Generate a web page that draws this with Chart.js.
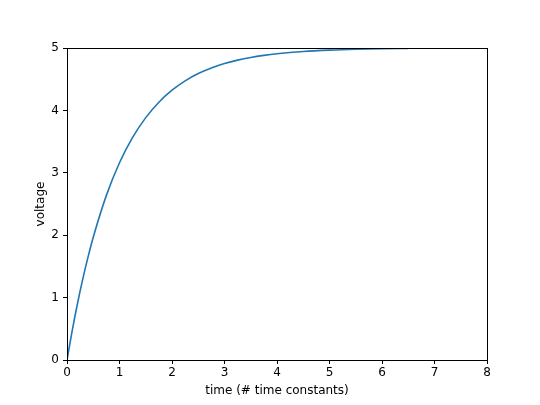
<!DOCTYPE html>
<html>
<head>
<meta charset="utf-8">
<script src="https://cdn.jsdelivr.net/npm/chart.js@4"></script>
<style>
  html, body { margin: 0; padding: 0; background: #fff; }
  #wrap { width: 540px; height: 405px; }
</style>
</head>
<body>
<div id="wrap"><canvas id="c" width="540" height="405"></canvas></div>
<script>
// time (# time constants) and voltage
const times = [0, 0.1, 0.2, 0.3, 0.4, 0.5, 0.75, 1, 1.25, 1.5, 1.75, 2, 2.25, 2.5, 2.75, 3, 3.25, 3.5, 3.75, 4, 4.5, 5, 5.5, 6, 6.5];
const voltage = [0, 0.476, 0.906, 1.296, 1.648, 1.967, 2.638, 3.161, 3.567, 3.884, 4.131, 4.323, 4.473, 4.590, 4.680, 4.751, 4.806, 4.849, 4.882, 4.908, 4.944, 4.966, 4.980, 4.988, 4.992];
const xTicks = [0, 1, 2, 3, 4, 5, 6, 7, 8];
const yTicks = [0, 1, 2, 3, 4, 5];

const font = { family: "'DejaVu Sans'", size: 12 };

// matplotlib-style frame round the plot area
const frame = {
  id: "frame",
  afterDraw(chart) {
    const { ctx, chartArea: a } = chart;
    ctx.save();
    ctx.strokeStyle = "#000";
    ctx.lineWidth = 1;
    ctx.strokeRect(a.left + 0.5, a.top + 0.5, a.right - a.left, a.bottom - a.top);
    ctx.restore();
  },
};

new Chart(document.getElementById("c"), {
  type: "line",
  data: {
    datasets: [
      {
        data: times.map((t, i) => ({ x: t, y: voltage[i] })),
        borderColor: "#1f77b4",
        borderWidth: 1.6,
        pointRadius: 0,
        cubicInterpolationMode: "monotone",
        fill: false,
      },
    ],
  },
  options: {
    responsive: false,
    animation: false,
    layout: { padding: { left: 0, top: 48, right: 53, bottom: 0 } },
    plugins: { legend: { display: false }, tooltip: { enabled: false } },
    scales: {
      x: {
        type: "linear",
        min: 0,
        max: 8,
        afterBuildTicks: (s) => { s.ticks = xTicks.map((v) => ({ value: v })); },
        afterFit: (s) => { s.height = 45; },
        grid: { drawOnChartArea: false, drawTicks: true, tickLength: 4, color: "#000" },
        border: { color: "#000" },
        ticks: { color: "#000", font, padding: 2, maxRotation: 0 },
        title: { display: true, text: "time (# time constants)", color: "#000", font, padding: { top: 0, bottom: 7 } },
      },
      y: {
        type: "linear",
        min: 0,
        max: 5,
        afterBuildTicks: (s) => { s.ticks = yTicks.map((v) => ({ value: v })); },
        afterFit: (s) => { s.width = 67; },
        grid: { drawOnChartArea: false, drawTicks: true, tickLength: 4, color: "#000" },
        border: { color: "#000" },
        ticks: { color: "#000", font, padding: 4 },
        title: { display: true, text: "voltage", color: "#000", font, padding: { top: 34, bottom: 0 } },
      },
    },
  },
  plugins: [frame],
});
</script>
</body>
</html>
